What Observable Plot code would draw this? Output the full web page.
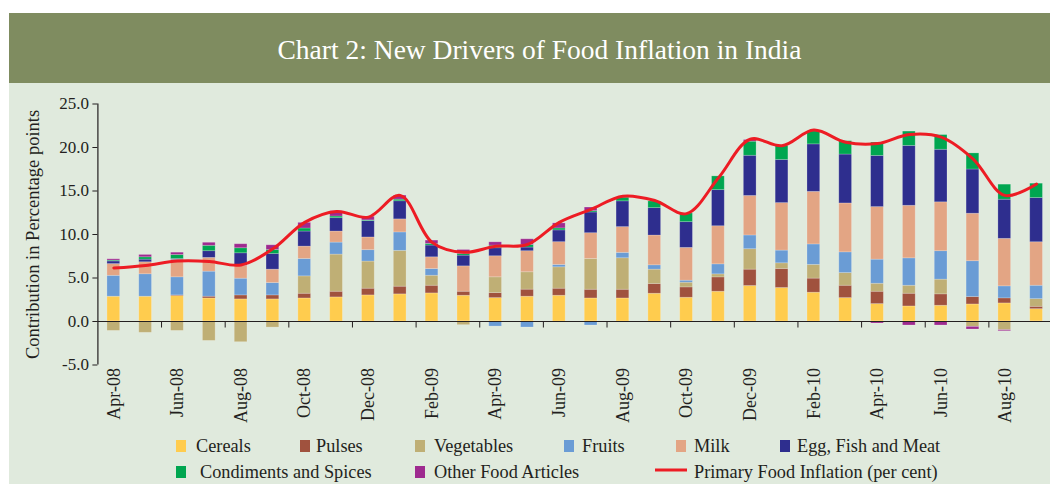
<!DOCTYPE html>
<html><head><meta charset="utf-8">
<script src="https://cdn.jsdelivr.net/npm/d3@7"></script>
<script src="https://cdn.jsdelivr.net/npm/@observablehq/plot@0.6"></script>
<style>
html,body{margin:0;padding:0;}
body{width:1050px;height:484px;overflow:hidden;background:#fff;position:relative;font-family:"Liberation Serif",serif;}
#banner{position:absolute;left:9px;top:13px;width:1021px;padding-left:20px;height:70px;background:#7f8c60;color:#fff;font-size:27.5px;display:flex;align-items:center;justify-content:center;}
#banner span{position:relative;top:2px;}
#panel{position:absolute;left:9px;top:83px;width:1041px;height:401px;background:#e0eadd;}
#chart{position:absolute;left:0;top:83px;width:1052px;}
#chart svg{max-width:none;}
.lg{position:absolute;font-size:18.3px;color:#231f20;white-space:nowrap;line-height:1;transform:translateY(-50%);}
.sw{position:absolute;width:10px;height:12px;transform:translateY(-50%);}
.ln{position:absolute;width:32px;height:3px;background:#ed1c24;transform:translateY(-50%);}
</style></head><body>
<div id="banner"><span>Chart 2: New Drivers of Food Inflation in India</span></div>
<div id="panel"></div>
<div id="chart"></div>
<div id="legend"></div>
<script>
const months = ["Apr-08","May-08","Jun-08","Jul-08","Aug-08","Sep-08","Oct-08","Nov-08","Dec-08","Jan-09","Feb-09","Mar-09","Apr-09","May-09","Jun-09","Jul-09","Aug-09","Sep-09","Oct-09","Nov-09","Dec-09","Jan-10","Feb-10","Mar-10","Apr-10","May-10","Jun-10","Jul-10","Aug-10","Sep-10"];
const seriesNames = ["Cereals","Pulses","Vegetables","Fruits","Milk","Egg, Fish and Meat","Condiments and Spices","Other Food Articles"];
const seriesColors = ["#ffcc4e","#a0523e","#bfaf75","#6a9cd5","#e3a584","#2e2e8e","#00a650","#9e2a8f"];
const cereals    = [2.85,2.85,2.92,2.65,2.54,2.54,2.65,2.77,3.0,3.12,3.23,2.96,2.69,2.85,2.96,2.65,2.65,3.19,2.73,3.42,4.08,3.85,3.31,2.69,2.0,1.73,1.81,1.96,2.08,1.42];
const pulses     = [0,0,0.08,0.2,0.46,0.46,0.54,0.65,0.77,0.88,0.88,0.46,0.58,0.81,0.81,1.0,1.0,1.12,1.19,1.65,1.88,2.19,1.62,1.42,1.42,1.46,1.31,0.85,0.58,0.27];
const vegetables = [-1.08,-1.3,-1.08,-2.23,-2.38,-0.7,2.0,4.27,3.12,4.12,1.15,-0.42,1.81,2.0,2.46,3.54,3.62,1.65,0.54,0.35,2.35,0.65,1.58,1.46,0.92,0.92,1.69,-0.62,-1.0,0.88];
const fruits     = [2.4,2.58,2.08,2.88,1.92,1.42,2.0,1.38,1.31,2.12,0.77,0,-0.58,-0.69,0.27,-0.46,0.62,0.5,0.23,1.15,1.58,1.46,2.35,2.38,2.77,3.15,3.27,4.12,1.38,1.54];
const milk       = [1.35,1.38,2.0,1.58,1.5,1.54,1.42,1.27,1.46,1.5,1.35,2.92,2.42,2.42,2.62,2.96,2.96,3.42,3.77,4.38,4.54,5.46,6.04,5.62,6.04,6.04,5.62,5.46,5.46,5.0];
const eggFishMeat= [0.3,0.3,0.1,0.77,1.42,1.8,1.73,1.54,1.88,2.08,1.35,1.23,0.92,0.42,1.35,2.38,2.96,3.15,2.96,4.15,4.62,4.96,5.46,5.62,5.88,6.88,6.04,5.08,4.5,5.08];
const condiments = [0.1,0.27,0.46,0.62,0.58,0.46,0.35,0.19,0.08,0.19,0.19,0.19,0.3,0.3,0.23,0.15,0.42,0.77,1.0,1.58,1.62,1.62,1.5,1.54,1.54,1.65,1.69,1.85,1.73,1.65];
const otherFood  = [0.15,0.27,0.27,0.35,0.46,0.54,0.65,0.62,0.42,0.46,0.38,0.46,0.38,0.65,0.58,0.42,0,0,0,0,0.19,0,0,0,-0.23,-0.46,-0.46,-0.3,-0.12,-0.08];
const primaryFoodInflation = [6.15,6.45,6.95,6.9,6.5,8.35,11.4,12.65,12.0,14.5,9.1,7.95,8.65,8.85,11.4,12.9,14.4,13.9,12.4,16.5,20.95,20.2,22.0,20.6,20.45,21.5,21.2,18.7,14.5,15.8];
const lineName = "Primary Food Inflation (per cent)";
const yTicks = [-5,0,5,10,15,20,25];
const labelMonths = months.filter((m,i) => i % 2 === 0);
const tickMonths = months.filter((m,i) => i % 2 === 1 && i < months.length - 1);
const yLabel = "Contribution in Percentage points";

const seriesValues = [cereals,pulses,vegetables,fruits,milk,eggFishMeat,condiments,otherFood];
const rows = [];
seriesNames.forEach((s,k) => months.forEach((m,i) => rows.push({month:m, series:s, value:seriesValues[k][i]})));
const lineRows = months.map((m,i) => ({month:m, value:primaryFoodInflation[i]}));

const W = 1052, H = 340, ML = 97.4, MR = 0, MT = 20.5, MB = 58.5;
const pad = 0.6;
const step = (W - ML - MR) / months.length;
const ink = "#231f20";

const chart = Plot.plot({
  width: W, height: H,
  marginLeft: ML, marginRight: MR, marginTop: MT, marginBottom: MB,
  style: {fontFamily: "Liberation Serif, serif", background: "transparent", color: ink, overflow: "visible", maxWidth: "none"},
  x: {type: "band", domain: months, paddingInner: pad, paddingOuter: pad/2, round: false},
  y: {domain: [-5, 25]},
  color: {domain: seriesNames, range: seriesColors},
  marks: [
    Plot.barY(rows, {x: "month", y: "value", fill: "series", stroke: "#ffffff", strokeOpacity: 0.25, strokeWidth: 0.8}),
    Plot.ruleY([0], {stroke: ink, strokeWidth: 1.2}),
    Plot.ruleX(tickMonths, {x: d => d, y1: 0, y2: -0.75, dx: step/2, stroke: ink}),
    Plot.ruleX([months[0]], {x: d => d, y1: -5, y2: 25, dx: -step/2, stroke: ink, strokeWidth: 1.2}),
    Plot.axisY({ticks: yTicks, tickFormat: d => d.toFixed(1), tickSize: 5, tickPadding: 4, fontSize: 17, label: null, stroke: ink}),
    Plot.axisX({ticks: labelMonths, tickSize: 0, tickRotate: -90, tickPadding: 3, fontSize: 18, label: null}),
    Plot.text([10], {y: d => d, text: () => yLabel, frameAnchor: "left", textAnchor: "middle", dx: -65, rotate: -90, fontSize: 18.5, fill: ink}),
    Plot.line(lineRows, {x: "month", y: "value", stroke: "#ed1c24", strokeWidth: 3, curve: "catmull-rom"})
  ]
});
document.getElementById("chart").appendChild(chart);

// Legend
const legendItems = [
  {name: seriesNames[0], sx: 176, tx: 196, y: 446},
  {name: seriesNames[1], sx: 300, tx: 316, y: 446},
  {name: seriesNames[2], sx: 415, tx: 434, y: 446},
  {name: seriesNames[3], sx: 564, tx: 582, y: 446},
  {name: seriesNames[4], sx: 676, tx: 694, y: 446},
  {name: seriesNames[5], sx: 780, tx: 797, y: 446},
  {name: seriesNames[6], sx: 176, tx: 200, y: 472},
  {name: seriesNames[7], sx: 415, tx: 434, y: 472}
];
const lg = document.getElementById("legend");
legendItems.forEach(it => {
  const k = seriesNames.indexOf(it.name);
  const sw = document.createElement("div");
  sw.className = "sw"; sw.style.left = it.sx + "px"; sw.style.top = it.y + "px"; sw.style.background = seriesColors[k];
  lg.appendChild(sw);
  const t = document.createElement("div");
  t.className = "lg"; t.style.left = it.tx + "px"; t.style.top = it.y + "px"; t.textContent = it.name;
  lg.appendChild(t);
});
const ln = document.createElement("div");
ln.className = "ln"; ln.style.left = "655px"; ln.style.top = "470px";
lg.appendChild(ln);
const lt = document.createElement("div");
lt.className = "lg"; lt.style.left = "694px"; lt.style.top = "472px"; lt.textContent = lineName;
lg.appendChild(lt);
</script>
</body></html>
